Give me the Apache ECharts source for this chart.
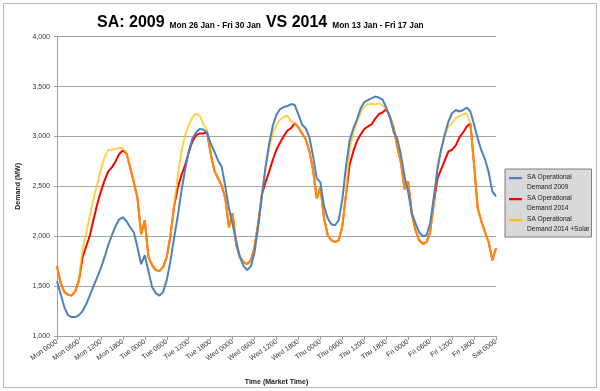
<!DOCTYPE html>
<html>
<head>
<meta charset="utf-8">
<script src="https://cdn.jsdelivr.net/npm/echarts@6/dist/echarts.min.js"></script>
<style>html,body{margin:0;padding:0;background:#fff}#c{width:600px;height:391px}</style>
</head>
<body>
<div id="c"></div>
<script>
// tick labels (every 6 hours)
var tickLabels = ['Mon 0000','Mon 0600','Mon 1200','Mon 1800','Tue 0000','Tue 0600','Tue 1200','Tue 1800',
  'Wed 0000','Wed 0600','Wed 1200','Wed 1800','Thu 0000','Thu 0600','Thu 1200','Thu 1800',
  'Fri 0000','Fri 0600','Fri 1200','Fri 1800','Sat 0000'];
var seriesNames = ['SA Operational\nDemand 2009','SA Operational\nDemand 2014','SA Operational\nDemand 2014 +Solar'];
// hourly demand (MW), hour 0 .. 120
var demand2009 = [1550,1420,1290,1210,1190,1190,1210,1250,1320,1410,
 1500,1590,1680,1790,1910,2010,2100,2170,2190,2150,
 2090,2040,1890,1720,1810,1650,1490,1430,1405,1440,
 1560,1750,1980,2200,2450,2660,2850,2980,3040,3075,
 3070,3040,2930,2850,2760,2700,2500,2280,2120,1950,
 1790,1700,1660,1700,1840,2100,2400,2690,2930,3110,
 3220,3275,3295,3305,3325,3315,3220,3120,3080,2990,
 2800,2580,2540,2300,2180,2120,2110,2160,2370,2700,
 2960,3080,3170,3280,3345,3365,3385,3400,3390,3370,
 3290,3190,3050,2980,2820,2600,2440,2230,2130,2040,
 2000,2010,2130,2390,2670,2870,3020,3150,3233,3265,
 3250,3265,3290,3250,3120,2980,2860,2770,2640,2450,
 2400];
var demand2014 = [1700,1530,1440,1415,1405,1450,1560,
 1790,1900,2010,2170,2320,2450,2560,2650,2690,2750,2825,2860,
 2830,2690,2540,2380,2020,2160,1790,1710,1660,1650,1690,1790,2000,2300,
 2483,2610,2710,2840,2950,3010,3030,3030,3045,
 2830,2660,2580,2510,2380,2090,2230,1910,1790,1740,1720,1760,1890,2130,2420,
 2540,2650,2767,2870,2940,3005,3060,3083,3133,3090,
 3030,2970,2850,2660,2380,2490,2180,2010,1960,1940,1960,2100,2420,
 2720,2850,2955,3020,3075,3100,3120,3180,3225,3240,3275,
 3200,3090,2900,2740,2470,2550,2220,2060,1960,1925,1940,2040,2330,
 2580,2670,2760,2850,2867,2910,2990,3040,3100,
 3130,2720,2280,2150,2040,1940,1760,1880];
var demand2014Solar = [1700,1530,1440,1415,1405,1450,1560,
 1870,2030,2210,2380,2520,2670,2790,2865,2867,2875,2885,2885,
 2830,2690,2540,2380,2020,2160,1790,1710,1660,1650,1690,1790,2000,2300,
 2600,2850,3010,3110,3190,3230,3210,3120,3070,
 2830,2660,2580,2510,2380,2090,2230,1910,1790,1740,1720,1760,1890,2130,2420,
 2690,2880,3033,3120,3170,3195,3207,3150,3130,3090,
 3030,2970,2850,2660,2380,2490,2180,2010,1960,1940,1960,2100,2420,
 2880,3033,3140,3240,3300,3325,3325,3322,3333,3310,3275,
 3200,3090,2900,2740,2470,2550,2220,2060,1960,1925,1940,2040,2330,
 2720,2870,3010,3100,3133,3185,3205,3225,3230,
 3130,2720,2280,2150,2040,1940,1760,1880];

function pts(arr){ return arr.map(function(v,i){ return [i, v]; }); }

var chart = echarts.init(document.getElementById('c'), null, {renderer:'canvas'});
var base = "'Liberation Sans',Arial,sans-serif";
chart.setOption({
  animation:false,
  backgroundColor:'#fff',
  graphic:[{type:'rect', shape:{x:3.5,y:3.5,width:593,height:384}, style:{fill:'none', stroke:'#b8b8b8', lineWidth:1}}],
  title:{
    left:97, top:11, padding:0,
    text:'{big|SA: 2009} {small|Mon 26 Jan - Fri 30 Jan} {big|VS 2014} {small|Mon 13 Jan - Fri 17 Jan}',
    textStyle:{
      fontWeight:'bold',
      rich:{
        big:{fontFamily:base, fontSize:16, fontWeight:'bold', color:'#000', verticalAlign:'bottom', lineHeight:20},
        small:{fontFamily:base, fontSize:8.3, fontWeight:'bold', color:'#000', verticalAlign:'bottom', lineHeight:20, padding:[0,0,1,0]}
      }
    }
  },
  legend:{
    orient:'vertical', left:505, top:169,
    data:[seriesNames[0], seriesNames[1], seriesNames[2]],
    backgroundColor:'#d9d9d9', borderColor:'#7f7f7f', borderWidth:1,
    padding:[3,2,3,4], itemGap:1,
    itemWidth:13, itemHeight:10,
    icon:'path://M0,0H13V2.2H0Z M0,10H0.01V10.01H0Z',
    textStyle:{fontFamily:base, fontSize:6.6, color:'#1a1a1a', lineHeight:10}
  },
  grid:{left:57, right:104, top:36.7, bottom:54.3},
  xAxis:{
    type:'value', min:0, max:120, interval:6,
    name:'Time (Market Time)', nameLocation:'middle', nameGap:43,
    nameTextStyle:{fontFamily:base, fontSize:7, fontWeight:'bold', color:'#222'},
    axisLine:{lineStyle:{color:'#a0a0a0'}},
    axisTick:{show:true, length:4, lineStyle:{color:'#a0a0a0'}},
    splitLine:{show:false},
    axisLabel:{rotate:35, fontFamily:base, fontSize:7, color:'#333', margin:5,
      formatter:function(v){ return tickLabels[Math.round(v/6)] || ''; }}
  },
  yAxis:{
    type:'value', min:1000, max:4000, interval:500,
    name:'Demand (MW)', nameLocation:'middle', nameGap:31,
    nameTextStyle:{fontFamily:base, fontSize:7, fontWeight:'bold', color:'#222'},
    axisLine:{show:true, lineStyle:{color:'#a0a0a0'}},
    axisTick:{show:true, length:3, lineStyle:{color:'#a0a0a0'}},
    splitLine:{lineStyle:{color:'#a6a6a6', width:1}},
    axisLabel:{fontFamily:base, fontSize:7, color:'#333', margin:7,
      formatter:function(v){ return v.toLocaleString('en-US'); }}
  },
  series:[
    {name:seriesNames[1], type:'line', data:pts(demand2014), symbol:'none', z:2,
      lineStyle:{color:'#ff0000', width:2}, itemStyle:{color:'#ff0000'}},
    {name:seriesNames[2], type:'line', data:pts(demand2014Solar), symbol:'none', z:3,
      lineStyle:{color:'#ffc000', width:2, opacity:0.72}, itemStyle:{color:'#ffc000'}},
    {name:seriesNames[0], type:'line', data:pts(demand2009), symbol:'none', z:4,
      lineStyle:{color:'#4f81bd', width:2}, itemStyle:{color:'#4f81bd'}}
  ]
});
</script>
</body>
</html>
